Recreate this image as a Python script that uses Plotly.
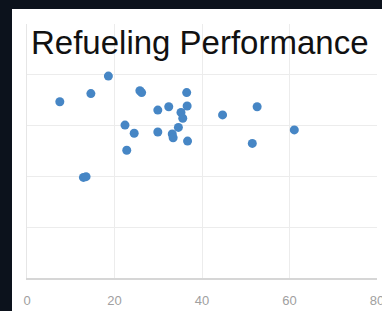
import plotly.graph_objects as go

# Refueling performance data
x_vals = [7.5, 14.6, 18.6, 25.8, 26.2, 36.5, 29.9, 32.4, 36.6, 35.2, 35.6, 22.4, 24.5,
          29.9, 34.6, 33.2, 33.4, 36.7, 22.8, 12.9, 13.5, 44.7, 52.6, 61.1, 51.5]
y_vals = [69.4, 72.6, 79.5, 73.7, 73.0, 73.0, 66.1, 67.4, 67.7, 65.2, 62.9, 60.2, 57.0,
          57.5, 59.3, 56.7, 55.2, 53.9, 50.3, 39.6, 39.9, 64.2, 67.4, 58.3, 53.0]
x_ticks = [0, 20, 40, 60, 80]
title_text = "Refueling Performance"

fig = go.Figure()
fig.add_trace(go.Scatter(
    x=x_vals, y=y_vals, mode="markers",
    marker=dict(size=9, color="#4686c5", line=dict(width=0)),
    showlegend=False, hoverinfo="skip",
))

dark = "#0c121c"
PW, PH = 350, 254
fig.update_layout(
    width=382, height=311,
    margin=dict(l=27, r=5, t=24, b=33, autoexpand=False),
    paper_bgcolor=dark,
    plot_bgcolor="white",
    title=dict(text=title_text, x=31/382, xanchor="left", xref="container",
               y=1 - 42/311, yanchor="middle", yref="container", automargin=False,
               font=dict(family="Liberation Sans, Arial", size=33, color="#111111")),
    xaxis=dict(range=[0, 80], tickvals=x_ticks, ticktext=[str(t) for t in x_ticks],
               showgrid=True, gridcolor="#ececec", gridwidth=1, automargin=False,
               showline=True, linecolor="#d6d6d6", linewidth=1.5,
               zeroline=False, ticks="", ticklabelstandoff=10, ticklabeloverflow="allow",
               tickfont=dict(family="Liberation Sans, Arial", size=13, color="#a0a0a0")),
    yaxis=dict(range=[0, 100], dtick=20, showticklabels=False, automargin=False,
               showgrid=True, gridcolor="#ececec", gridwidth=1,
               showline=True, linecolor="#e6e6e6", linewidth=1,
               zeroline=False, ticks=""),
    shapes=[
        dict(type="rect", xref="paper", yref="paper", x0=-15/PW, x1=2, y0=-1, y1=1 + 15/PH,
             fillcolor="white", line=dict(width=0), layer="below"),
    ],
)

fig.write_html("out.html", config={"displayModeBar": False},
               post_script="document.body.style.margin='0';document.body.style.overflow='hidden';")
